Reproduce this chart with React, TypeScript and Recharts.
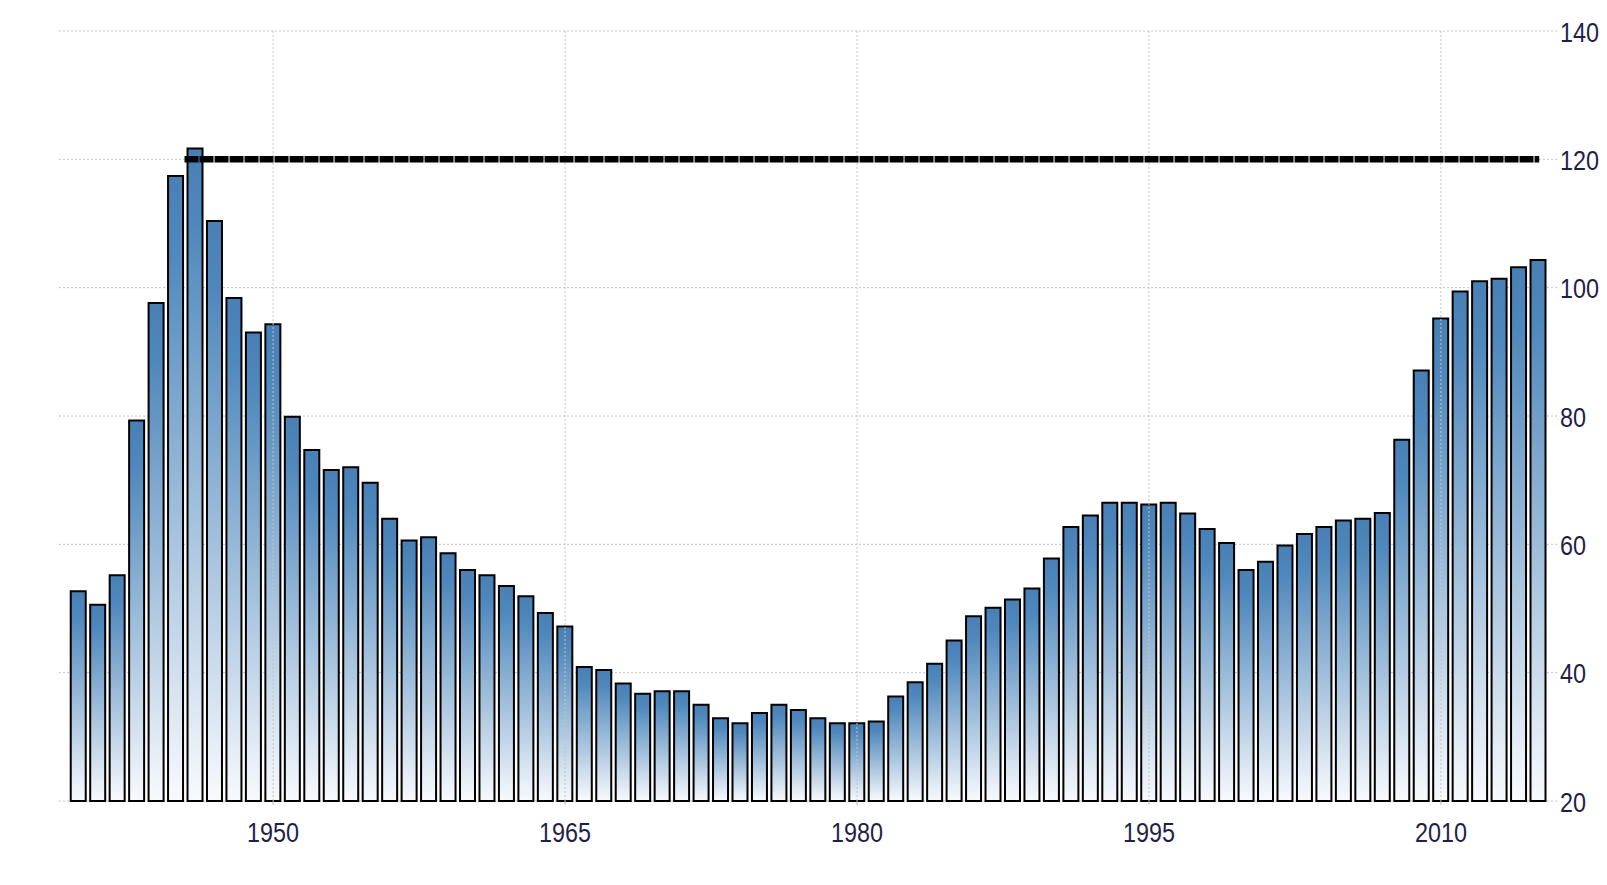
import { ComposedChart, Bar, XAxis, YAxis, CartesianGrid, ReferenceLine } from "recharts";

// Debt-to-GDP style series, one bar per year 1940–2015
const years = Array.from({ length: 76 }, (_, i) => 1940 + i);

const ratio = [
  52.7, 50.6, 55.2, 79.3, 97.6, 117.4, 121.7, 110.4, 98.4, 93.0,
  94.3, 79.9, 74.7, 71.6, 72.0, 69.6, 64.0, 60.6, 61.1, 58.6,
  56.0, 55.2, 53.5, 51.9, 49.3, 47.2, 40.9, 40.4, 38.3, 36.7,
  37.1, 37.1, 35.0, 32.9, 32.1, 33.7, 35.0, 34.2, 32.9, 32.1,
  32.1, 32.4, 36.3, 38.5, 41.4, 45.0, 48.8, 50.1, 51.4, 53.1,
  57.8, 62.7, 64.5, 66.5, 66.5, 66.2, 66.5, 64.8, 62.4, 60.2,
  56.0, 57.3, 59.8, 61.6, 62.7, 63.7, 64.0, 64.9, 76.3, 87.1,
  95.2, 99.4, 101.0, 101.4, 103.2, 104.3,
];

const xTicks = [1950, 1965, 1980, 1995, 2010];
const yTicks = [20, 40, 60, 80, 100, 120, 140];

// black marker line: starts at the 1946 bar, runs to the last year
const markerLevel = 120;
const markerFrom = 1945.45;
const markerTo = 2015.05;

const data = years.map((year, i) => ({ year, value: ratio[i] }));

const dotted = { stroke: "#c4c4c4", strokeDasharray: "2 2" };

// the reference uses a condensed face; squeeze regular glyphs to match
function NarrowTick(props: any) {
  const { x, y, payload, textAnchor, shift } = props;
  const label = String(payload.value);
  return (
    <text
      x={x}
      y={y}
      dy={shift}
      textAnchor={textAnchor}
      fontSize={28}
      fontFamily="'Liberation Sans', Arial, sans-serif"
      fill="#1f1f48"
      textLength={label.length * 13}
      lengthAdjust="spacingAndGlyphs"
    >
      {label}
    </text>
  );
}

export default function App() {
  return (
    <ComposedChart
      width={1599}
      height={870}
      data={data}
      margin={{ top: 23, right: 10, bottom: 37, left: 51 }}
    >
      <defs>
        <linearGradient id="barGrad" x1="0" y1="0" x2="0" y2="1">
          <stop offset="0%" stopColor="#4880b6" />
          <stop offset="12%" stopColor="#4f88bc" />
          <stop offset="100%" stopColor="#f8fafd" />
        </linearGradient>
      </defs>
      <CartesianGrid stroke="#c4c4c4" strokeDasharray="2 2" vertical={false} />
      <XAxis
        dataKey="year"
        type="number"
        domain={[1939, 2015.45]}
        ticks={xTicks}
        allowDataOverflow
        axisLine={false}
        tickLine={{ stroke: "#bbb" }}
        tickSize={4}
        tickMargin={17}
        height={40}
        tick={<NarrowTick shift="0.73em" />}
      />
      <YAxis
        orientation="right"
        domain={[20, 140]}
        ticks={yTicks}
        axisLine={false}
        tickLine={dotted}
        tickSize={10}
        tickMargin={3}
        width={50}
        tick={<NarrowTick shift="0.38em" />}
      />
      {xTicks.map((t) => (
        <ReferenceLine key={t} x={t} stroke="#c4c4c4" strokeDasharray="2 2" />
      ))}
      <Bar
        dataKey="value"
        barSize={15}
        fill="url(#barGrad)"
        stroke="#000"
        strokeWidth={2}
        isAnimationActive={false}
      />
      <ReferenceLine
        segment={[
          { x: markerFrom, y: markerLevel },
          { x: markerTo, y: markerLevel },
        ]}
        stroke="#000"
        strokeWidth={6.5}
        strokeDasharray="14 1"
      />
    </ComposedChart>
  );
}
